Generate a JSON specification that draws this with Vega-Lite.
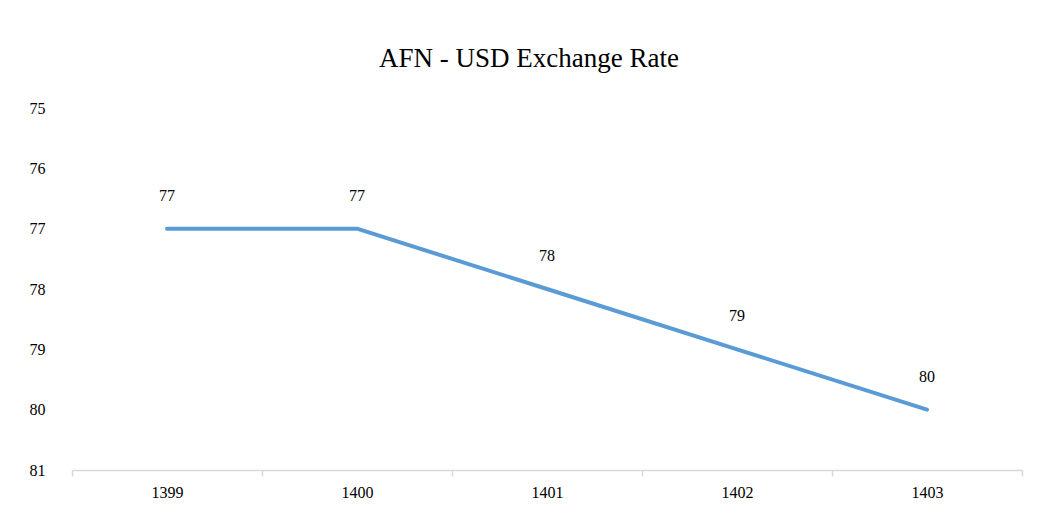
{
  "$schema": "https://vega.github.io/schema/vega-lite/v6.json",
  "width": 950,
  "height": 362,
  "autosize": {"type": "none"},
  "padding": {"left": 72, "top": 108, "right": 15, "bottom": 53},
  "background": "white",
  "config": {
    "view": {"stroke": null},
    "font": "Liberation Serif"
  },
  "title": {
    "text": "AFN - USD Exchange Rate",
    "fontSize": 27,
    "fontWeight": "normal",
    "font": "Liberation Serif",
    "color": "#000000",
    "anchor": "middle",
    "dx": -18,
    "offset": 27
  },
  "data": {
    "values": [
      {"year": "1399", "rate": 77},
      {"year": "1400", "rate": 77},
      {"year": "1401", "rate": 78},
      {"year": "1402", "rate": 79},
      {"year": "1403", "rate": 80}
    ]
  },
  "encoding": {
    "x": {
      "field": "year",
      "type": "nominal",
      "sort": null,
      "scale": {"paddingInner": 0, "paddingOuter": 0},
      "axis": {
        "title": null,
        "labelAngle": 0,
        "labelFontSize": 16,
        "labelColor": "#000000",
        "labelPadding": 8,
        "domainColor": "#d9d9d9",
        "domainWidth": 1.5,
        "tickColor": "#d9d9d9",
        "tickWidth": 1.5,
        "tickSize": 6,
        "tickBand": "extent",
        "grid": false
      }
    },
    "y": {
      "field": "rate",
      "type": "quantitative",
      "scale": {"domain": [75, 81], "reverse": true, "nice": false, "zero": false},
      "axis": {
        "title": null,
        "values": [75, 76, 77, 78, 79, 80, 81],
        "labelFontSize": 16,
        "labelColor": "#000000",
        "labelPadding": 27,
        "domain": false,
        "ticks": false,
        "grid": false
      }
    }
  },
  "layer": [
    {
      "mark": {"type": "line", "color": "#5b9bd5", "strokeWidth": 4, "strokeCap": "round", "strokeJoin": "round"}
    },
    {
      "mark": {"type": "text", "dy": -33, "fontSize": 16, "color": "#000000"},
      "encoding": {"text": {"field": "rate", "type": "quantitative"}}
    }
  ]
}
